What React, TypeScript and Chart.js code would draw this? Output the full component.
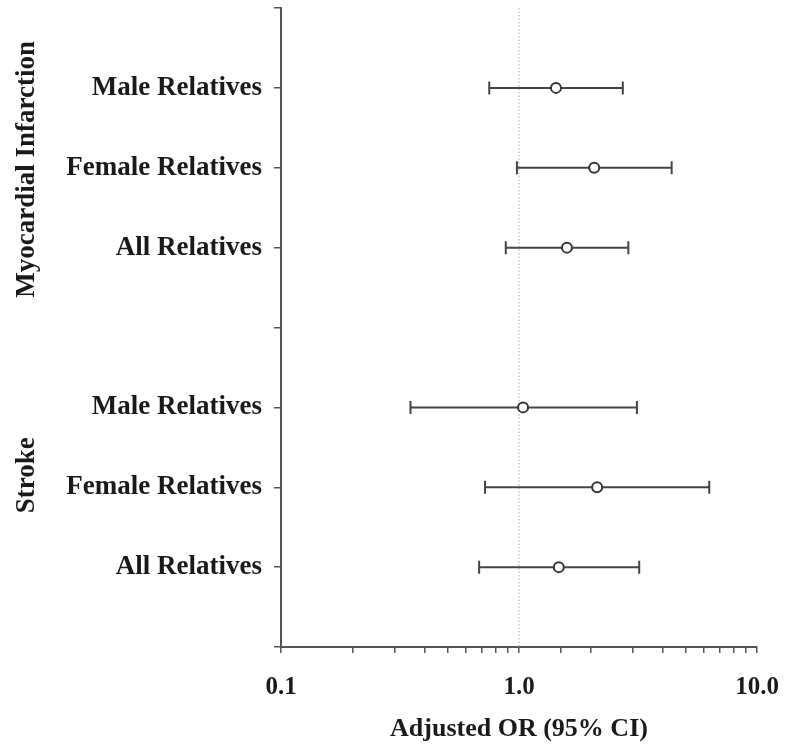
import React, { useEffect, useRef } from 'react';
import { Chart, registerables } from 'chart.js';

Chart.register(...registerables);

const rowLabels = ['', 'Male Relatives', 'Female Relatives', 'All Relatives', '', 'Male Relatives', 'Female Relatives', 'All Relatives', ''];
const groupLabels = ['Myocardial Infarction', 'Stroke'];
const rowIndex = [1, 2, 3, 5, 6, 7];
const orValues = [1.43, 2.07, 1.59, 1.04, 2.13, 1.47];
const ciLow = [0.75, 0.98, 0.88, 0.35, 0.72, 0.68];
const ciHigh = [2.73, 4.38, 2.88, 3.13, 6.3, 3.2];
const xTickLabels: Record<string, string> = { '-1': '0.1', '0': '1.0', '1': '10.0' };

const FONT = "'Liberation Serif', 'Times New Roman', serif";
const AXIS = '#555';
const TEXT = '#1a1a1a';

const forestPlugin = {
  id: 'forest',
  beforeDatasetsDraw(chart: any) {
    const { ctx, chartArea } = chart;
    const x = chart.scales.x;
    const y = chart.scales.y;
    ctx.save();
    ctx.strokeStyle = '#aaa';
    ctx.lineWidth = 1;
    ctx.setLineDash([1.5, 2]);
    const px = x.getPixelForValue(1);
    ctx.beginPath();
    ctx.moveTo(px, chartArea.top);
    ctx.lineTo(px, chartArea.bottom);
    ctx.stroke();
    ctx.setLineDash([]);
    ctx.strokeStyle = '#444';
    ctx.lineWidth = 2;
    rowIndex.forEach((r, i) => {
      const yy = y.getPixelForValue(r);
      const x0 = x.getPixelForValue(ciLow[i]);
      const x1 = x.getPixelForValue(ciHigh[i]);
      ctx.beginPath();
      ctx.moveTo(x0, yy);
      ctx.lineTo(x1, yy);
      ctx.moveTo(x0, yy - 6.5);
      ctx.lineTo(x0, yy + 6.5);
      ctx.moveTo(x1, yy - 6.5);
      ctx.lineTo(x1, yy + 6.5);
      ctx.stroke();
    });
    ctx.restore();
  },
  afterDraw(chart: any) {
    const { ctx } = chart;
    const y = chart.scales.y;
    const centers = [2.02, 5.85];
    ctx.save();
    ctx.fillStyle = TEXT;
    ctx.font = `bold 27px ${FONT}`;
    ctx.textAlign = 'center';
    ctx.textBaseline = 'middle';
    groupLabels.forEach((g, i) => {
      ctx.save();
      ctx.translate(27, y.getPixelForValue(centers[i]));
      ctx.rotate(-Math.PI / 2);
      ctx.fillText(g, 0, 0);
      ctx.restore();
    });
    ctx.restore();
  },
};

export default function App() {
  const ref = useRef<HTMLCanvasElement | null>(null);
  useEffect(() => {
    if (!ref.current) return;
    const chart = new Chart(ref.current, {
      type: 'scatter',
      data: {
        datasets: [
          {
            data: orValues.map((v, i) => ({ x: v, y: rowIndex[i] })),
            pointRadius: 5,
            pointHoverRadius: 5,
            pointBackgroundColor: '#fff',
            pointBorderColor: '#333',
            pointBorderWidth: 2,
            showLine: false,
          },
        ],
      },
      options: {
        animation: false,
        responsive: false,
        maintainAspectRatio: false,
        layout: { padding: { top: 8, right: 30, left: 0, bottom: 0 } },
        plugins: { legend: { display: false }, tooltip: { enabled: false } },
        scales: {
          x: {
            type: 'logarithmic',
            min: 0.1,
            max: 10,
            position: 'bottom',
            grid: { drawOnChartArea: false, drawTicks: true, tickLength: 6, color: AXIS, lineWidth: 1.5 },
            border: { display: true, color: AXIS, width: 2 },
            ticks: {
              autoSkip: false,
              maxRotation: 0,
              padding: 20,
              color: TEXT,
              font: { family: FONT, weight: 'bold', size: 25 },
              callback: (value: any) => {
                const l = Math.log10(Number(value));
                const r = Math.round(l);
                if (Math.abs(l - r) < 1e-6) return xTickLabels[String(r)] ?? '';
                return '';
              },
            },
            title: {
              display: true,
              text: 'Adjusted OR (95% CI)',
              color: TEXT,
              font: { family: FONT, weight: 'bold', size: 26 },
              padding: { top: 0, bottom: 4 },
            },
            afterFit: (s: any) => {
              s.height = 102;
              s.paddingLeft = 0;
              s.paddingRight = 0;
            },
          },
          y: {
            type: 'linear',
            min: 0,
            max: 8,
            reverse: true,
            grid: { drawOnChartArea: false, drawTicks: true, tickLength: 7, color: AXIS, lineWidth: 1.5 },
            border: { display: true, color: AXIS, width: 2 },
            ticks: {
              stepSize: 1,
              autoSkip: false,
              padding: 12,
              color: TEXT,
              font: { family: FONT, weight: 'bold', size: 27 },
              callback: (value: any) => rowLabels[Math.round(Number(value))] ?? '',
            },
            afterFit: (s: any) => {
              s.width = 281;
              s.paddingTop = 0;
              s.paddingBottom = 0;
            },
          },
        },
      } as any,
      plugins: [forestPlugin],
    });
    return () => chart.destroy();
  }, []);
  return (
    <div style={{ position: 'absolute', left: 0, top: 0, width: 787, height: 749, background: '#fff' }}>
      <canvas ref={ref} width={787} height={749} />
    </div>
  );
}
